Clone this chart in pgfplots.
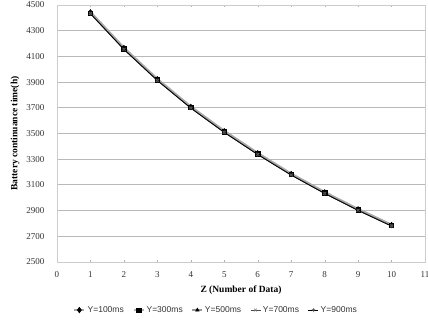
\documentclass[border=0pt]{standalone}
\usepackage{fontspec}
\setmainfont{Liberation Serif}
\setsansfont{Liberation Sans}
\usepackage{pgfplots}
\pgfplotsset{compat=1.18}
\begin{document}
\begin{tikzpicture}[x=1pt,y=1pt]
\begin{axis}[
  scale only axis,
  width=368pt, height=257pt,
  xmin=0, xmax=11, ymin=2500, ymax=4500,
  xtick={0,...,11}, ytick={2500,2700,...,4500},
  /pgf/number format/assume math mode=true,
  /pgf/number format/1000 sep={},
  tick label style={font=\fontsize{9}{10}\selectfont, text=black!80},
  yticklabel style={xshift=-9pt},
  xticklabel style={yshift=-6pt},
  ymajorgrids, grid style={gray!55, line width=0.9pt},
  axis line style={gray!40, line width=0.8pt},
  tick style={gray!60},
  ytick style={draw=none},
  xtick align=inside, major tick length=2pt,
  xlabel={\textbf{Z (Number of Data)}},
  ylabel={\textbf{Battery continuance time(h)}},
  label style={font=\fontsize{9.5}{11}\selectfont},
  xlabel style={at={(axis description cs:0.5,-0.109)}, anchor=center},
  ylabel style={at={(axis description cs:-0.114,0.5)}, anchor=center, rotate=0},
  legend style={at={(0.432,-0.187)}, anchor=center, draw=none, legend columns=5,
    font=\sffamily\fontsize{8.5}{9}\selectfont, text=black!80,
    /tikz/every even column/.append style={column sep=7pt}},
  legend image code/.code={\draw[mark repeat=2,mark phase=2,#1] plot coordinates {(0pt,0pt) (5pt,0pt) (10pt,0pt)};},
]
\addplot[gray!70, line width=2.6pt, mark=diamond*, mark options={black, fill=black, line width=0.5pt, scale=1.4}] coordinates {
(1,4443) (2,4165) (3,3922) (4,3707) (5,3518) (6,3346) (7,3185) (8,3042) (9,2910) (10,2788)};
\addlegendentry{Y=100ms}
\addplot[gray!60, line width=1.8pt, mark=square*, mark options={black, fill=black, line width=0.5pt, scale=1.1}] coordinates {
(1,4438) (2,4160) (3,3918) (4,3703) (5,3514) (6,3342) (7,3182) (8,3039) (9,2907) (10,2785)};
\addlegendentry{Y=300ms}
\addplot[gray!80, line width=1.2pt, mark=triangle*, mark options={black, fill=black, line width=0.5pt, scale=1.0}] coordinates {
(1,4436) (2,4158) (3,3916) (4,3701) (5,3512) (6,3340) (7,3180) (8,3037) (9,2905) (10,2783)};
\addlegendentry{Y=500ms}
\addplot[black!70, line width=0.8pt, mark=x, mark options={gray, line width=0.5pt, scale=1.0}] coordinates {
(1,4434) (2,4156) (3,3914) (4,3699) (5,3510) (6,3338) (7,3178) (8,3035) (9,2903) (10,2781)};
\addlegendentry{Y=700ms}
\addplot[black, line width=0.7pt, mark=asterisk, mark options={black!70, line width=0.5pt, scale=1.0}] coordinates {
(1,4432) (2,4154) (3,3912) (4,3697) (5,3508) (6,3336) (7,3176) (8,3033) (9,2901) (10,2779)};
\addlegendentry{Y=900ms}
\end{axis}
\pgfresetboundingbox
\path ([shift={(-57pt,-59pt)}]current axis.south west) rectangle ([shift={(3pt,5pt)}]current axis.north east);
\end{tikzpicture}
\end{document}
